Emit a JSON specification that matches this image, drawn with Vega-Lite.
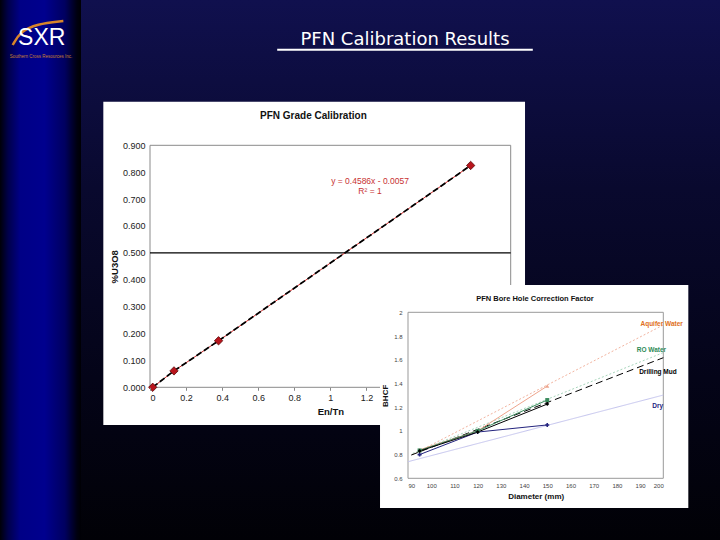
{
  "$schema": "https://vega.github.io/schema/vega-lite/v6.json",
  "width": 720,
  "height": 540,
  "padding": 0,
  "autosize": {"type": "none"},
  "background": "#000000",
  "config": {"view": {"stroke": null}, "font": "Liberation Sans"},
  "resolve": {
    "scale": {"x": "independent", "y": "independent"},
    "axis": {"x": "independent", "y": "independent"}
  },
  "layer": [
    {
      "encoding": {
        "x": {"field": "x", "type": "quantitative", "scale": {"domain": [0, 10], "range": [0, 720], "nice": false, "zero": false}, "axis": null},
        "y": {"field": "y", "type": "quantitative", "scale": {"domain": [0, 7.5], "range": [0, 540], "nice": false, "zero": false}, "axis": null}
      },
      "layer": [
        {
          "data": {"values": [{"x": 0, "x2": 10, "y": 0, "y2": 7.5}]},
          "mark": {"type": "rect", "fill": {"gradient": "linear", "x1": 0, "y1": 0, "x2": 0, "y2": 1, "stops": [
            {"offset": 0, "color": "#10104e"},
            {"offset": 0.35, "color": "#09092e"},
            {"offset": 0.7, "color": "#040418"},
            {"offset": 1, "color": "#010106"}
          ]}},
          "encoding": {"x2": {"field": "x2"}, "y2": {"field": "y2"}}
        },
        {
          "data": {"values": [{"x": 0, "x2": 1.125, "y": 0, "y2": 7.5}]},
          "mark": {"type": "rect", "fill": {"gradient": "linear", "x1": 0, "y1": 0, "x2": 1, "y2": 0, "stops": [
            {"offset": 0, "color": "#000008"},
            {"offset": 0.1, "color": "#00004a"},
            {"offset": 0.25, "color": "#000086"},
            {"offset": 0.55, "color": "#00008e"},
            {"offset": 0.8, "color": "#000060"},
            {"offset": 0.95, "color": "#000010"},
            {"offset": 1, "color": "#000004"}
          ]}},
          "encoding": {"x2": {"field": "x2"}, "y2": {"field": "y2"}}
        },
        {
          "data": {"values": [{"x": 1.435, "x2": 7.292, "y": 1.4125, "y2": 5.903}]},
          "mark": {"type": "rect", "fill": "#ffffff"},
          "encoding": {"x2": {"field": "x2"}, "y2": {"field": "y2"}}
        },
        {
          "data": {"values": [{"x": 0.176, "y": 0.625}, {"x": 0.28, "y": 0.44}, {"x": 0.51, "y": 0.333}, {"x": 0.88, "y": 0.292}]},
          "mark": {"type": "line", "interpolate": "basis", "stroke": "#d8852a", "strokeWidth": 2.5}
        },
        {
          "data": {"values": [{"x": 0.58, "y": 0.625, "t": "SXR"}]},
          "mark": {"type": "text", "font": "Liberation Sans", "fontSize": 23, "color": "#ffffff", "baseline": "alphabetic", "align": "center"},
          "encoding": {"text": {"field": "t"}}
        },
        {
          "data": {"values": [{"x": 0.57, "y": 0.79, "t": "Southern Cross Resources Inc."}]},
          "mark": {"type": "text", "font": "Liberation Sans", "fontSize": 4.5, "color": "#c88030", "baseline": "middle", "align": "center"},
          "encoding": {"text": {"field": "t"}}
        },
        {
          "data": {"values": [{"x": 5.625, "y": 0.63, "t": "PFN Calibration Results"}]},
          "mark": {"type": "text", "font": "DejaVu Sans", "fontSize": 18, "color": "#ffffff", "baseline": "alphabetic", "align": "center"},
          "encoding": {"text": {"field": "t"}}
        },
        {
          "data": {"values": [{"x": 3.85, "x2": 7.4, "y": 0.69}]},
          "mark": {"type": "rule", "color": "#ffffff", "strokeWidth": 2},
          "encoding": {"x2": {"field": "x2"}}
        }
      ]
    },
    {
      "encoding": {
        "x": {"field": "x", "type": "quantitative",
          "scale": {"domain": [0, 2], "range": [150, 510.7], "nice": false, "zero": false},
          "axis": {"orient": "bottom", "offset": -152.7, "values": [0, 0.2, 0.4, 0.6, 0.8, 1, 1.2], "format": "~g",
            "domain": false, "grid": false, "ticks": true, "tickSize": 3, "tickColor": "#888888",
            "labelFont": "Liberation Sans", "labelFontSize": 9, "labelColor": "#222222", "labelPadding": 3,
            "title": "En/Tn", "titleFont": "Liberation Sans", "titleFontSize": 9.5, "titleFontWeight": "bold", "titleColor": "#111111", "titlePadding": 4, "zindex": 1}},
        "y": {"field": "y", "type": "quantitative",
          "scale": {"domain": [0, 0.9], "range": [387.3, 145.3], "nice": false, "zero": false},
          "axis": {"orient": "left", "offset": -150, "values": [0, 0.1, 0.2, 0.3, 0.4, 0.5, 0.6, 0.7, 0.8, 0.9], "format": ".3f",
            "domain": false, "grid": false, "ticks": false, "labelPadding": 5,
            "labelFont": "Liberation Sans", "labelFontSize": 9, "labelColor": "#222222",
            "title": "%U3O8", "titleFont": "Liberation Sans", "titleFontSize": 9.5, "titleFontWeight": "bold", "titleColor": "#111111", "titlePadding": 3, "zindex": 1}}
      },
      "layer": [
        {
          "data": {"values": [{"x": 0, "x2": 2, "y": 0, "y2": 0.9}]},
          "mark": {"type": "rect", "fill": null, "stroke": "#8a8a8a", "strokeWidth": 1},
          "encoding": {"x2": {"field": "x2"}, "y2": {"field": "y2"}}
        },
        {
          "data": {"values": [{"x": 0, "x2": 2, "y": 0.5}]},
          "mark": {"type": "rule", "color": "#000000", "strokeWidth": 1.2},
          "encoding": {"x2": {"field": "x2"}}
        },
        {
          "data": {"values": [{"x": 0.015, "y": 0.0}, {"x": 0.133, "y": 0.061}, {"x": 0.38, "y": 0.173}, {"x": 1.778, "y": 0.825}]},
          "mark": {"type": "line", "color": "#cc2a2a", "strokeWidth": 1}
        },
        {
          "data": {"values": [{"x": 0.015, "y": 0.0}, {"x": 0.133, "y": 0.061}, {"x": 0.38, "y": 0.173}, {"x": 1.778, "y": 0.825}]},
          "mark": {"type": "line", "color": "#000000", "strokeWidth": 1.8, "strokeDash": [6, 3]}
        },
        {
          "data": {"values": [{"x": 0.015, "y": 0.0}, {"x": 0.133, "y": 0.061}, {"x": 0.38, "y": 0.173}, {"x": 1.778, "y": 0.825}]},
          "mark": {"type": "point", "shape": "diamond", "filled": true, "fill": "#b8141c", "stroke": "#5a0a0a", "strokeWidth": 0.8, "size": 70, "opacity": 1}
        },
        {
          "data": {"values": [{"x": 1.22, "y": 0.768, "t": "y = 0.4586x - 0.0057"}, {"x": 1.22, "y": 0.731, "t": "R² = 1"}]},
          "mark": {"type": "text", "color": "#c83232", "fontSize": 8.5, "font": "Liberation Sans", "align": "center", "baseline": "middle"},
          "encoding": {"text": {"field": "t"}}
        },
        {
          "data": {"values": [{"x": 0.906, "y": 1.0086, "t": "PFN Grade Calibration"}]},
          "mark": {"type": "text", "color": "#111111", "fontSize": 10, "fontWeight": "bold", "font": "Liberation Sans", "align": "center", "baseline": "middle"},
          "encoding": {"text": {"field": "t"}}
        }
      ]
    },
    {
      "data": {"values": [{"x": 5.278, "x2": 9.56, "y": 3.958, "y2": 7.056}]},
      "mark": {"type": "rect", "fill": "#ffffff"},
      "encoding": {
        "x": {"field": "x", "type": "quantitative", "scale": {"domain": [0, 10], "range": [0, 720], "nice": false, "zero": false}, "axis": null},
        "x2": {"field": "x2"},
        "y": {"field": "y", "type": "quantitative", "scale": {"domain": [0, 7.5], "range": [0, 540], "nice": false, "zero": false}, "axis": null},
        "y2": {"field": "y2"}
      }
    },
    {
      "encoding": {
        "x": {"field": "d", "type": "quantitative",
          "scale": {"domain": [90, 200], "range": [408, 663.3], "nice": false, "zero": false},
          "axis": {"orient": "bottom", "offset": -61.7, "values": [90, 100, 110, 120, 130, 140, 150, 160, 170, 180, 190, 200], "format": "d",
            "domain": false, "grid": false, "ticks": false, "labelPadding": 4,
            "labelFont": "Liberation Sans", "labelFontSize": 6, "labelColor": "#444444",
            "title": "Diameter (mm)", "titleFont": "Liberation Sans", "titleFontSize": 8, "titleFontWeight": "bold", "titleColor": "#111111", "titlePadding": 4, "zindex": 1}},
        "y": {"field": "v", "type": "quantitative",
          "scale": {"domain": [0.6, 2], "range": [478.3, 312.3], "nice": false, "zero": false},
          "axis": {"orient": "left", "offset": -408, "values": [0.6, 0.8, 1, 1.2, 1.4, 1.6, 1.8, 2], "format": "~g",
            "domain": false, "grid": false, "ticks": false, "labelPadding": 6,
            "labelFont": "Liberation Sans", "labelFontSize": 6, "labelColor": "#444444",
            "title": "BHCF", "titleFont": "Liberation Sans", "titleFontSize": 8, "titleFontWeight": "bold", "titleColor": "#111111", "titlePadding": 4, "zindex": 1}}
      },
      "layer": [
        {
          "data": {"values": [{"d": 90, "d2": 200, "v": 0.6, "v2": 2}]},
          "mark": {"type": "rect", "fill": null, "stroke": "#999999", "strokeWidth": 1},
          "encoding": {"x2": {"field": "d2"}, "y2": {"field": "v2"}}
        },
        {
          "data": {"values": [
            {"s": "Aquifer Water", "d": 92, "v": 0.8},
            {"s": "Aquifer Water", "d": 200, "v": 1.893},
            {"s": "RO Water", "d": 92, "v": 0.81},
            {"s": "RO Water", "d": 200, "v": 1.66},
            {"s": "Dry", "d": 90, "v": 0.74},
            {"s": "Dry", "d": 200, "v": 1.302},
            {"s": "Drilling Mud", "d": 91.4, "v": 0.796},
            {"s": "Drilling Mud", "d": 200, "v": 1.617}
          ]},
          "mark": {"type": "line"},
          "encoding": {
            "detail": {"field": "s"},
            "stroke": {"field": "s", "type": "nominal", "legend": null,
              "scale": {"domain": ["Aquifer Water", "RO Water", "Drilling Mud", "Dry"], "range": ["#f2b4a0", "#a8d6bc", "#000000", "#c4c4ee"]}},
            "strokeDash": {"field": "s", "type": "nominal", "legend": null,
              "scale": {"domain": ["Aquifer Water", "RO Water", "Drilling Mud", "Dry"], "range": [[2, 2], [2, 2], [7, 4], [1, 0]]}},
            "strokeWidth": {"field": "s", "type": "nominal", "legend": null,
              "scale": {"domain": ["Aquifer Water", "RO Water", "Drilling Mud", "Dry"], "range": [1, 1, 1.8, 1]}}
          }
        },
        {
          "data": {"values": [
            {"s": "Dry", "d": 95, "v": 0.8},
            {"s": "Dry", "d": 120, "v": 0.99},
            {"s": "Dry", "d": 150, "v": 1.05},
            {"s": "Aquifer Water", "d": 95, "v": 0.84},
            {"s": "Aquifer Water", "d": 120, "v": 1.0},
            {"s": "Aquifer Water", "d": 150, "v": 1.378},
            {"s": "RO Water", "d": 95, "v": 0.835},
            {"s": "RO Water", "d": 120, "v": 1.0},
            {"s": "RO Water", "d": 150, "v": 1.26},
            {"s": "Drilling Mud", "d": 95, "v": 0.83},
            {"s": "Drilling Mud", "d": 120, "v": 0.99},
            {"s": "Drilling Mud", "d": 150, "v": 1.226}
          ]},
          "layer": [
            {
              "mark": {"type": "line"},
              "encoding": {
                "color": {"field": "s", "type": "nominal", "legend": null,
                  "scale": {"domain": ["Aquifer Water", "RO Water", "Drilling Mud", "Dry"], "range": ["#eea48c", "#3a8a5c", "#000000", "#24247e"]}},
                "strokeWidth": {"field": "s", "type": "nominal", "legend": null}
              }
            },
            {
              "mark": {"type": "point", "filled": true, "size": 16, "opacity": 1},
              "encoding": {
                "color": {"field": "s", "type": "nominal", "legend": null},
                "shape": {"field": "s", "type": "nominal", "legend": null,
                  "scale": {"domain": ["Aquifer Water", "RO Water", "Drilling Mud", "Dry"], "range": ["triangle-up", "square", "diamond", "cross"]}}
              }
            }
          ]
        },
        {
          "data": {"values": [
            {"s": "Aquifer Water", "d": 199.3, "v": 1.9, "t": "Aquifer Water"},
            {"s": "RO Water", "d": 194.9, "v": 1.682, "t": "RO Water"},
            {"s": "Drilling Mud", "d": 197.7, "v": 1.499, "t": "Drilling Mud"},
            {"s": "Dry", "d": 197.6, "v": 1.212, "t": "Dry"}
          ]},
          "mark": {"type": "text", "fontSize": 6.5, "fontWeight": "bold", "font": "Liberation Sans", "align": "center", "baseline": "middle"},
          "encoding": {
            "text": {"field": "t"},
            "fill": {"field": "s", "type": "nominal", "legend": null,
              "scale": {"domain": ["Aquifer Water", "RO Water", "Drilling Mud", "Dry"], "range": ["#e07020", "#2e8b57", "#000000", "#24247e"]}}
          }
        },
        {
          "data": {"values": [{"d": 144.7, "v": 2.112, "t": "PFN Bore Hole Correction Factor"}]},
          "mark": {"type": "text", "color": "#111111", "fontSize": 7.5, "fontWeight": "bold", "font": "Liberation Sans", "align": "center", "baseline": "middle"},
          "encoding": {"text": {"field": "t"}}
        }
      ]
    }
  ]
}
